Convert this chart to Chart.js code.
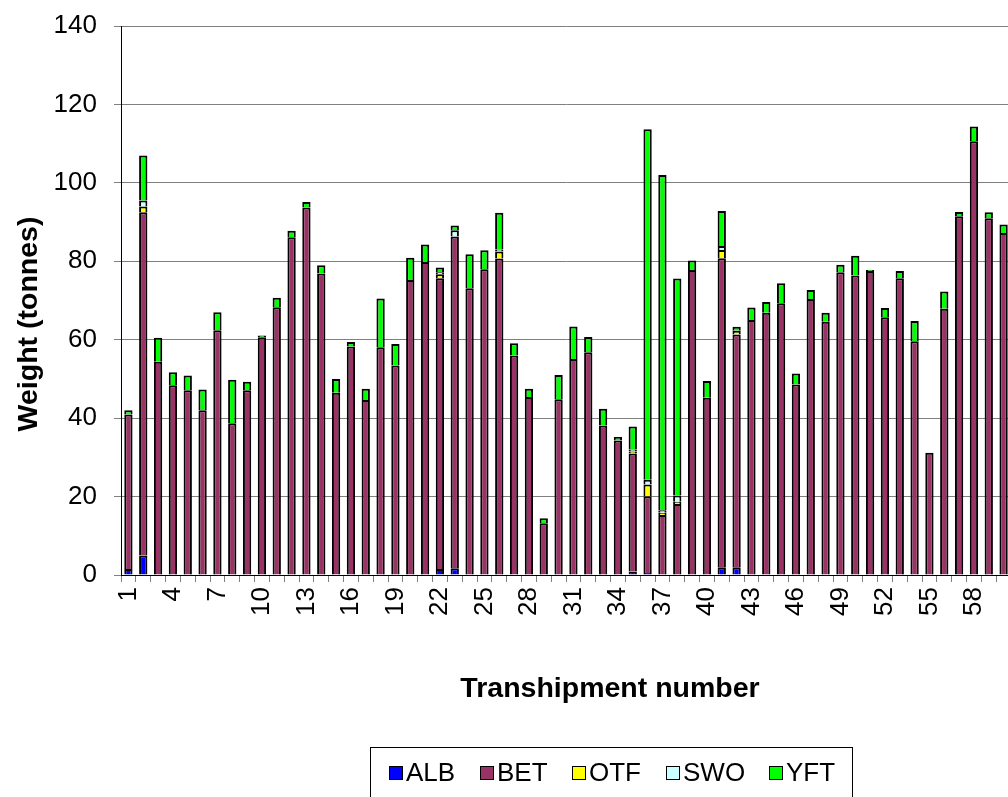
<!DOCTYPE html>
<html>
<head>
<meta charset="utf-8">
<script src="https://cdn.jsdelivr.net/npm/chart.js@4"></script>
<style>
  html, body { margin: 0; padding: 0; background: #fff; overflow: hidden; }
  #wrap { position: relative; width: 1040px; height: 797px; }
</style>
</head>
<body>
<div id="wrap"><canvas id="chart"></canvas></div>
<script>
// Numéros de transbordement (1..60)
const transhipments = Array.from({ length: 60 }, (_, i) => String(i + 1));

// Tonnes par espèce
const ALB = [1.5, 5, 0, 0, 0, 0, 0, 0, 0, 0, 0, 0, 0, 0, 0, 0, 0, 0, 0, 0,
             0, 1.5, 1.7, 0, 0, 0, 0, 0, 0, 0, 0, 0, 0, 0, 0.9, 0.5, 0, 0, 0, 0,
             2.0, 2.0, 0, 0, 0, 0, 0, 0, 0, 0, 0, 0, 0, 0, 0, 0, 0, 0, 0, 0];
const BET = [39.4, 87.5, 54.4, 48.4, 47.1, 42.0, 62.4, 38.7, 47.1, 60.6,
             68.3, 86.1, 93.7, 76.9, 46.5, 58.3, 44.6, 58.1, 53.4, 75.2,
             79.8, 74.2, 84.6, 73.1, 78.0, 80.7, 56.0, 45.4, 13.2, 44.8,
             55.1, 56.8, 38.1, 34.3, 30.1, 19.6, 15.3, 18.1, 77.8, 45.2,
             78.8, 59.3, 65.0, 66.9, 69.3, 48.6, 70.4, 64.6, 77.2, 76.4,
             77.5, 65.7, 75.7, 59.6, 31.2, 67.9, 91.5, 110.6, 91.0, 87.2];
const OTF = [0, 1.5, 0, 0, 0, 0, 0, 0, 0, 0, 0, 0, 0, 0, 0, 0, 0, 0, 0, 0,
             0, 1.0, 0, 0, 0, 1.8, 0, 0, 0, 0, 0, 0, 0, 0, 0.5, 3.0, 0.6, 0.6, 0, 0,
             2.1, 1.0, 0, 0, 0, 0, 0, 0, 0, 0, 0, 0, 0, 0, 0, 0, 0, 0, 0, 0];
const SWO = [0, 1.5, 0, 0, 0, 0, 0, 0, 0, 0, 0, 0, 0, 0, 0, 0, 0, 0, 0, 0,
             0, 0.5, 1.6, 0, 0, 0.5, 0, 0, 0, 0, 0, 0, 0, 0, 0.5, 1.2, 0.6, 1.6, 0, 0,
             1.0, 0, 0, 0, 0, 0, 0, 0, 0, 0, 0, 0, 0, 0, 0, 0, 0, 0, 0, 0];
const YFT = [1.1, 11.5, 6.1, 3.3, 3.8, 5.3, 4.6, 11.1, 2.2, 0.5,
             2.4, 1.7, 1.4, 2.1, 3.5, 1.1, 2.9, 12.4, 5.5, 5.7,
             4.5, 1.2, 1.2, 8.7, 4.8, 9.4, 3.1, 2.1, 1.3, 6.2,
             8.3, 3.9, 4.3, 0.9, 5.9, 89.4, 85.5, 55.3, 2.4, 4.3,
             8.9, 1.0, 3.2, 2.7, 5.1, 2.8, 2.3, 2.3, 1.9, 5.0,
             0.3, 2.4, 1.8, 5.2, 0, 4.4, 1.1, 3.8, 1.5, 2.2];

const species = ["ALB", "BET", "OTF", "SWO", "YFT"];
const seriesValues = [ALB, BET, OTF, SWO, YFT];
const colors = ["#0000FF", "#993366", "#FFFF00", "#CCFFFF", "#00FF00"];

const yTicks = [0, 20, 40, 60, 80, 100, 120, 140];

const FONT = "'Liberation Sans', Arial, sans-serif";

// Titres d'axes et légende dessinés à la main (position comme dans l'original)
const decorPlugin = {
  id: "decor",
  afterDraw(chart) {
    const ctx = chart.ctx;
    ctx.save();
    ctx.fillStyle = "#000";
    ctx.textBaseline = "middle";

    // Titre de l'axe X
    ctx.font = "bold 28.5px " + FONT;
    ctx.textAlign = "center";
    ctx.fillText("Transhipment number", 610, 689);

    // Titre de l'axe Y
    ctx.save();
    ctx.translate(29, 324);
    ctx.rotate(-Math.PI / 2);
    ctx.fillText("Weight (tonnes)", 0, 0);
    ctx.restore();

    // Légende
    ctx.strokeStyle = "#000";
    ctx.lineWidth = 1;
    ctx.strokeRect(370.5, 747.5, 482, 60);
    const itemX = [389, 480, 572, 666, 769];
    ctx.font = "26px " + FONT;
    ctx.textAlign = "left";
    species.forEach((name, i) => {
      ctx.fillStyle = colors[i];
      ctx.fillRect(itemX[i], 766, 13, 13);
      ctx.strokeStyle = "#000";
      ctx.strokeRect(itemX[i] + 0.5, 766.5, 13, 13);
      ctx.fillStyle = "#000";
      ctx.fillText(name, itemX[i] + 17, 774);
    });
    ctx.restore();
  }
};

new Chart(document.getElementById("chart"), {
  type: "bar",
  data: {
    labels: transhipments,
    datasets: species.map((name, i) => ({
      label: name,
      data: seriesValues[i].map(v => v || null),
      backgroundColor: colors[i],
      borderColor: "#000",
      borderWidth: 2,
      barPercentage: 0.56,
      categoryPercentage: 1
    }))
  },
  options: {
    responsive: true,
    maintainAspectRatio: false,
    animation: false,
    layout: { padding: { top: 26, left: 0, right: 24, bottom: 0 } },
    plugins: {
      legend: { display: false },
      tooltip: { enabled: false }
    },
    scales: {
      x: {
        stacked: true,
        afterFit: s => { s.height = 222; },
        grid: {
          drawOnChartArea: false,
          drawTicks: true,
          tickLength: 7,
          color: "#808080",
          offset: true
        },
        border: { color: "#000", width: 1 },
        ticks: {
          autoSkip: false,
          minRotation: 90,
          maxRotation: 90,
          padding: 5,
          color: "#000",
          font: { family: FONT, size: 26 },
          callback: (v, i) => (i % 3 === 0 ? transhipments[i] : "")
        }
      },
      y: {
        stacked: true,
        min: 0,
        max: 140,
        afterFit: s => {
          s.width = 121;
          s.paddingTop = 10;
          s.paddingBottom = 10;
        },
        afterBuildTicks: s => { s.ticks = yTicks.map(v => ({ value: v })); },
        grid: {
          color: "#7f7f7f",
          lineWidth: 1,
          tickLength: 7,
          tickColor: "#808080"
        },
        border: { color: "#000", width: 1 },
        ticks: {
          padding: 17,
          color: "#000",
          font: { family: FONT, size: 26 }
        }
      }
    }
  },
  plugins: [decorPlugin]
});
</script>
</body>
</html>
